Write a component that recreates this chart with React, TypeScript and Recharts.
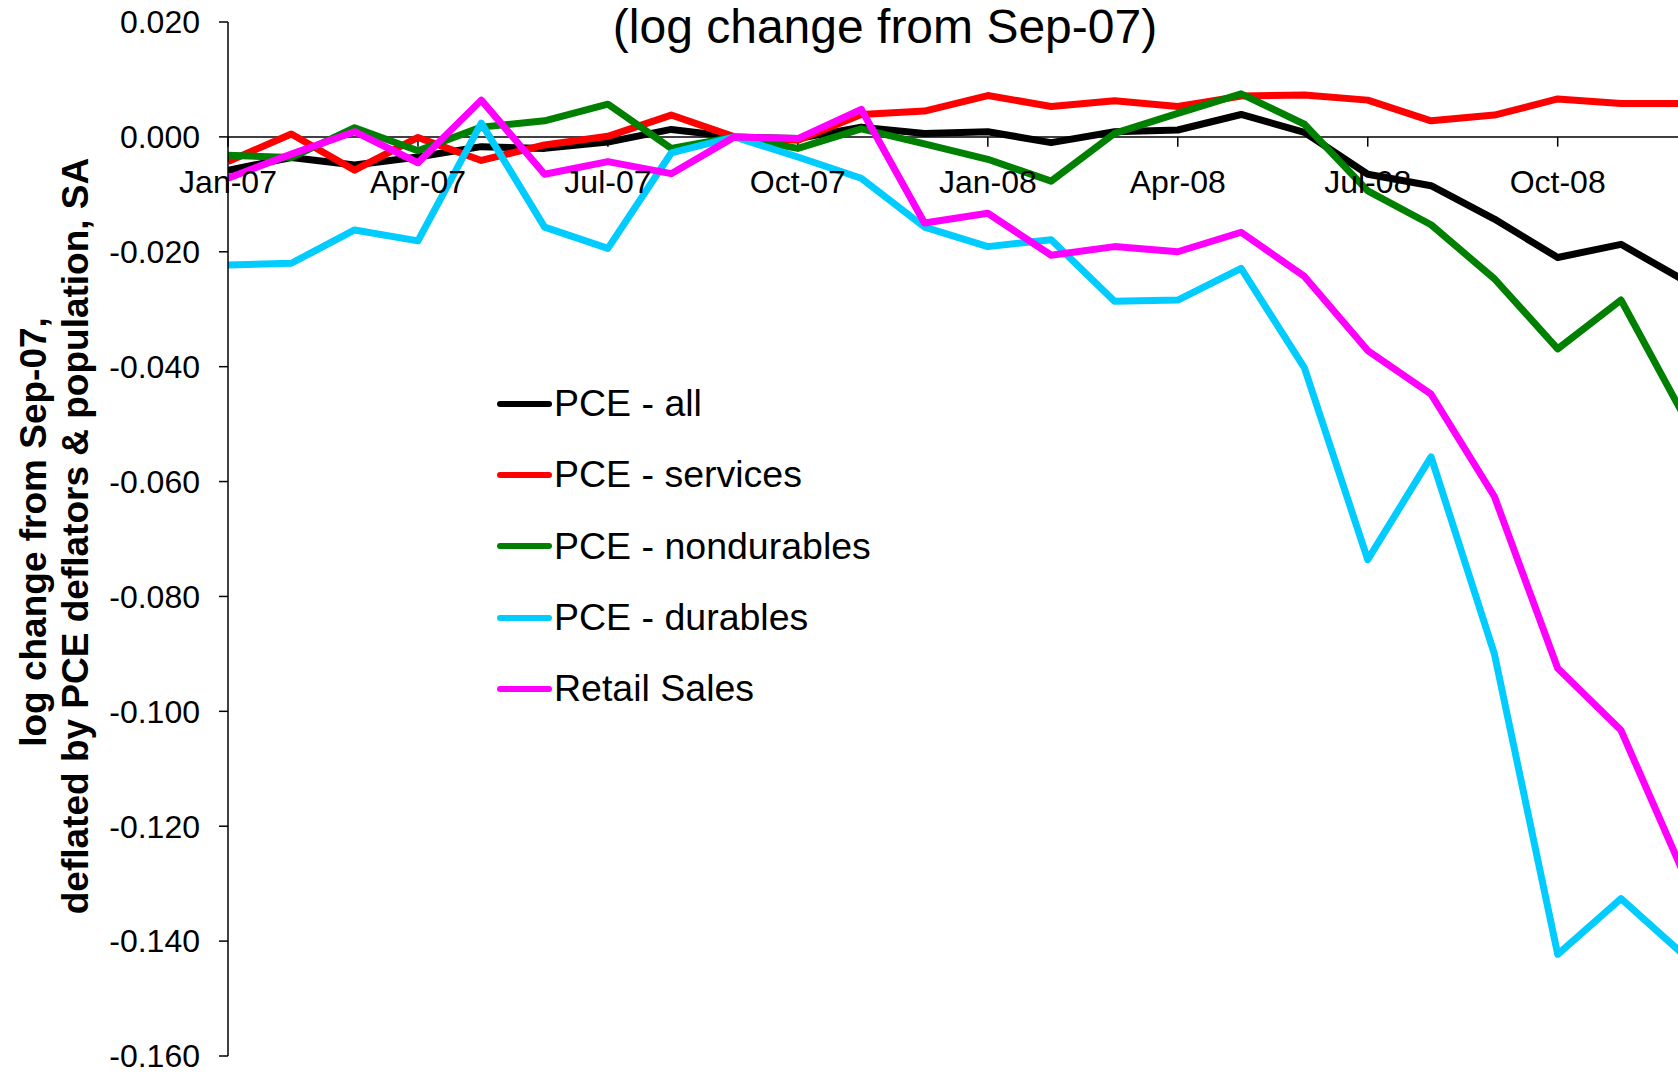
import { LineChart, Line, XAxis, YAxis, ReferenceLine, Legend } from "recharts";

const months = [
  "Jan-07", "Feb-07", "Mar-07", "Apr-07", "May-07", "Jun-07",
  "Jul-07", "Aug-07", "Sep-07", "Oct-07", "Nov-07", "Dec-07",
  "Jan-08", "Feb-08", "Mar-08", "Apr-08", "May-08", "Jun-08",
  "Jul-08", "Aug-08", "Sep-08", "Oct-08", "Nov-08", "Dec-08",
];

const pceAll = [
  -0.0058, -0.0036, -0.0049, -0.0035, -0.0017, -0.002, -0.0009, 0.0013, 0, -0.0003, 0.0017, 0.0006,
  0.0009, -0.001, 0.0009, 0.0012, 0.0039, 0.0008, -0.0065, -0.0085, -0.0143, -0.021, -0.0187, -0.025,
];
const pceServices = [
  -0.0043, 0.0005, -0.0058, -0.0001, -0.0041, -0.0014, 0.0001, 0.0038, 0, -0.0006, 0.0039, 0.0045,
  0.0072, 0.0053, 0.0063, 0.0053, 0.0071, 0.0073, 0.0064, 0.0028, 0.0038, 0.0066, 0.0058, 0.0058,
];
const pceNondurables = [
  -0.0032, -0.0036, 0.0016, -0.0024, 0.0017, 0.0028, 0.0057, -0.002, 0, -0.002, 0.0014, -0.0012,
  -0.0039, -0.0077, 0.0006, 0.0041, 0.0075, 0.0022, -0.0094, -0.0153, -0.0247, -0.0369, -0.0284, -0.0487,
];
const pceDurables = [
  -0.0223, -0.022, -0.0162, -0.0181, 0.0024, -0.0157, -0.0194, -0.0028, 0, -0.0035, -0.0072, -0.0157,
  -0.0191, -0.0179, -0.0286, -0.0284, -0.0229, -0.0402, -0.0736, -0.0557, -0.09, -0.1423, -0.1326, -0.1425,
];
const retailSales = [
  -0.0072, -0.003, 0.0009, -0.0045, 0.0064, -0.0065, -0.0043, -0.0064, 0, -0.0003, 0.0048, -0.015,
  -0.0133, -0.0206, -0.0191, -0.02, -0.0166, -0.0243, -0.0372, -0.0448, -0.0626, -0.0925, -0.1033, -0.1285,
];

const seriesNames = ["PCE - all", "PCE - services", "PCE - nondurables", "PCE - durables", "Retail Sales"];
const xTicks = [0, 3, 6, 9, 12, 15, 18, 21];
const yTicks = [0.02, 0, -0.02, -0.04, -0.06, -0.08, -0.1, -0.12, -0.14, -0.16];

const FONT = "'Liberation Sans', Arial, sans-serif";

const data = months.map((month, idx) => ({
  idx,
  month,
  all: pceAll[idx],
  services: pceServices[idx],
  nondurables: pceNondurables[idx],
  durables: pceDurables[idx],
  retail: retailSales[idx],
}));

function YTitle() {
  return (
    <g fontFamily={FONT} fontWeight="bold" fontSize={37} fill="#000">
      <text x={46} y={532} textAnchor="middle" transform="rotate(-90, 46, 532)">
        log change from Sep-07,
      </text>
      <text x={88} y={536} textAnchor="middle" transform="rotate(-90, 88, 536)">
        deflated by PCE deflators &amp; population, SA
      </text>
    </g>
  );
}

function LegendBox({ payload }: any) {
  // keep the series order, not the alphabetical one
  const items = [...(payload || [])].sort(
    (a: any, b: any) => seriesNames.indexOf(a.value) - seriesNames.indexOf(b.value)
  );
  return (
    <div style={{ fontFamily: FONT }}>
      {items.map((entry: any) => (
        <div key={entry.value} style={{ display: "flex", alignItems: "center", height: 71.3 }}>
          <svg width={60} height={12} style={{ display: "block" }}>
            <line x1={6} y1={6} x2={55} y2={6} stroke={entry.color} strokeWidth={6} strokeLinecap="round" />
          </svg>
          <span style={{ fontSize: 37.5, color: "#000", whiteSpace: "nowrap" }}>{entry.value}</span>
        </div>
      ))}
    </div>
  );
}

export default function App() {
  return (
    <div
      style={{
        position: "absolute",
        left: 0,
        top: 0,
        width: 1678,
        height: 1073,
        overflow: "hidden",
        background: "#fff",
        fontFamily: FONT,
      }}
    >
      <div
        style={{
          position: "absolute",
          left: 885,
          top: 3,
          transform: "translateX(-50%)",
          fontSize: 48,
          lineHeight: "48px",
          whiteSpace: "nowrap",
          color: "#000",
          zIndex: 2,
        }}
      >
        (log change from Sep-07)
      </div>
      <LineChart
        width={1678}
        height={1073}
        data={data}
        margin={{ top: 22, right: 0, bottom: 17, left: 0 }}
      >
        <XAxis type="number" dataKey="idx" domain={[0, 22.9]} allowDataOverflow hide />
        <YAxis
          type="number"
          domain={[-0.16, 0.02]}
          ticks={yTicks}
          interval={0}
          width={228}
          tickSize={9}
          tickMargin={19}
          tickFormatter={(v: number) => v.toFixed(3)}
          axisLine={{ stroke: "#000", strokeWidth: 1.5 }}
          tickLine={{ stroke: "#000", strokeWidth: 1.5 }}
          tick={{ fill: "#000", fontSize: 32, fontFamily: FONT }}
          label={() => <YTitle />}
        />
        <ReferenceLine y={0} stroke="#000" strokeWidth={1.5} />
        {xTicks.map((i) => (
          <ReferenceLine
            key={months[i]}
            segment={[
              { x: i, y: 0 },
              { x: i, y: -0.0017 },
            ]}
            stroke="#000"
            strokeWidth={1.5}
            label={{ value: months[i], position: "bottom", offset: 24, fill: "#000", fontSize: 32, fontFamily: FONT }}
          />
        ))}
        <Line type="linear" dataKey="all" name={seriesNames[0]} stroke="#000000" strokeWidth={7} strokeLinejoin="round" dot={false} isAnimationActive={false} />
        <Line type="linear" dataKey="services" name={seriesNames[1]} stroke="#FF0000" strokeWidth={7} strokeLinejoin="round" dot={false} isAnimationActive={false} />
        <Line type="linear" dataKey="nondurables" name={seriesNames[2]} stroke="#008000" strokeWidth={7} strokeLinejoin="round" dot={false} isAnimationActive={false} />
        <Line type="linear" dataKey="durables" name={seriesNames[3]} stroke="#00CCFF" strokeWidth={7} strokeLinejoin="round" dot={false} isAnimationActive={false} />
        <Line type="linear" dataKey="retail" name={seriesNames[4]} stroke="#FF00FF" strokeWidth={7} strokeLinejoin="round" dot={false} isAnimationActive={false} />
        <Legend
          layout="vertical"
          align="center"
          verticalAlign="middle"
          content={<LegendBox />}
          wrapperStyle={{ left: 494, top: 368, width: 420, height: "auto" }}
        />
      </LineChart>
    </div>
  );
}
